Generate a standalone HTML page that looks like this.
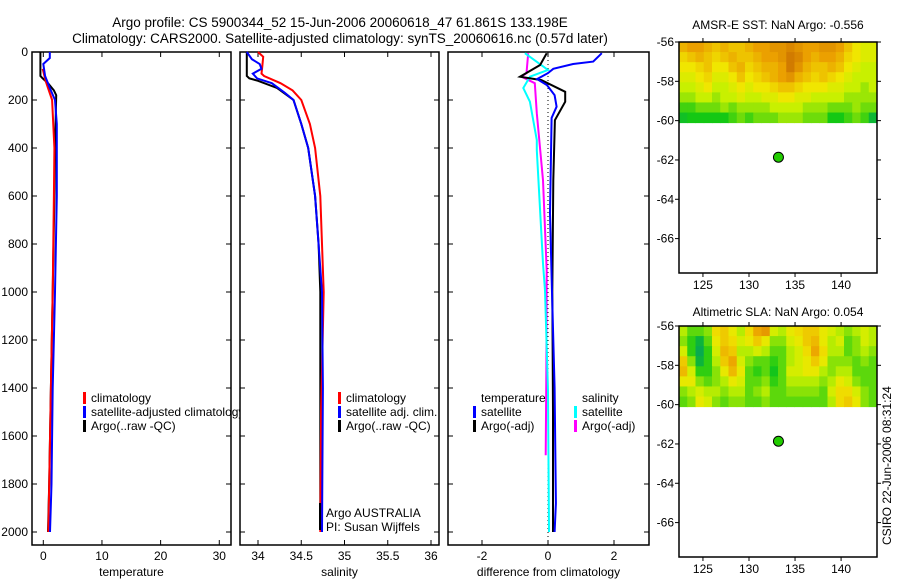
<!DOCTYPE html>
<html><head><meta charset="utf-8"><style>
html,body{margin:0;padding:0;background:#fff}
svg{display:block;font-family:"Liberation Sans",sans-serif}
</style></head><body>
<svg id="c" width="900" height="580" xmlns="http://www.w3.org/2000/svg">
<text x="340" y="27" text-anchor="middle" font-size="13.5">Argo profile: CS 5900344_52 15-Jun-2006 20060618_47 61.861S 133.198E</text>
<text x="340" y="43" text-anchor="middle" font-size="13.5">Climatology: CARS2000. Satellite-adjusted climatology: synTS_20060616.nc (0.57d later)</text>
<text x="778" y="29" text-anchor="middle" font-size="12">AMSR-E SST: NaN Argo: -0.556</text>
<text x="778" y="316" text-anchor="middle" font-size="12">Altimetric SLA: NaN Argo: 0.054</text>
<text transform="translate(891,545) rotate(-90)" font-size="12">CSIRO 22-Jun-2006 08:31:24</text>
</svg>
<script>
// ---- data ----
const depthTicks=[0,200,400,600,800,1000,1200,1400,1600,1800,2000];
const tempTicks=[0,10,20,30];
const salTicks=[34,34.5,35,35.5,36];
const salTickLabels=["34","34.5","35","35.5","36"];
const diffTicks=[-2,0,2];
const latTicks=[-56,-58,-60,-62,-64,-66];
const lonTicks=[125,130,135,140];

const tArgoDepth=[0,100,110,130,160,180,300,600,1000,1400,1800,2000];
const tArgoVal=[-0.5,-0.5,-0.1,0.8,1.8,2.2,2.1,1.9,1.6,1.3,1.0,0.8];
const tClimDepth=[70,120,200,400,600,1000,1400,1800,2000];
const tClimVal=[-0.1,0.4,1.5,1.9,1.8,1.6,1.3,1.0,0.85];
const tSatDepth=[0,25,50,100,150,200,300,600,1000,1400,1600,1800,2000];
const tSatVal=[1.1,1.1,0.0,0.3,1.1,2.0,2.3,2.3,2.0,1.6,1.5,1.4,1.15];

const sArgoDepth=[0,100,110,120,150,200,300,400,600,800,1000,1500,1990];
const sArgoVal=[33.87,33.87,33.9,34.0,34.22,34.41,34.5,34.58,34.66,34.7,34.72,34.72,34.72];
const sClimDepth=[0,20,60,90,100,130,160,200,300,400,600,800,1000,1500,2000];
const sClimVal=[34.0,34.06,34.05,34.04,34.07,34.26,34.4,34.5,34.6,34.66,34.72,34.74,34.76,34.73,34.72];
const sSatDepth=[0,30,50,70,90,110,130,170,200,300,400,600,1000,1400,2000];
const sSatVal=[33.87,33.93,34.02,34.04,33.94,33.99,34.16,34.31,34.41,34.5,34.58,34.66,34.74,34.75,34.74];

const dTSatDepth=[5,40,50,70,88,113,138,180,228,275,672,1000,1400,1880,2000];
const dTSatVal=[1.63,1.37,0.76,0.16,0.0,-0.33,-0.03,0.2,0.26,0.11,0.06,0.12,0.2,0.24,0.2];
const dTArgoDepth=[5,54,103,117,166,207,284,534,1000,1500,2000];
const dTArgoVal=[-0.04,-0.24,-0.85,-0.2,0.52,0.52,0.21,0.16,0.13,0.15,0.15];
const dSSatDepth=[5,75,103,150,207,367,409,881,994,1411,2000];
const dSSatVal=[-0.7,0.0,-0.55,-0.75,-0.55,-0.34,-0.34,-0.15,-0.09,0.0,0.03];
const dSArgoDepth=[5,88,103,130,255,534,910,1300,1680];
const dSArgoVal=[-0.6,-0.65,-0.8,-0.4,-0.34,-0.15,-0.04,-0.05,-0.07];

const sstGrid=[
[.75,.8,.8,.75,.7,.75,.7,.7,.75,.8,.8,.85,.85,.9,.85,.8,.8,.85,.85,.8,.7,.6,.55,.55],
[.65,.7,.75,.7,.65,.7,.75,.7,.7,.75,.8,.8,.85,.95,.9,.8,.75,.8,.8,.75,.65,.6,.55,.55],
[.6,.6,.65,.7,.6,.6,.7,.75,.65,.7,.75,.75,.8,.95,.85,.75,.7,.7,.75,.7,.6,.55,.5,.5],
[.55,.55,.6,.65,.55,.55,.6,.7,.6,.65,.7,.75,.8,.85,.75,.7,.65,.7,.65,.6,.55,.5,.5,.5],
[.5,.5,.55,.6,.5,.5,.55,.6,.55,.6,.6,.65,.7,.7,.65,.6,.6,.6,.55,.55,.5,.5,.45,.5],
[.45,.45,.5,.5,.45,.5,.5,.55,.5,.5,.55,.55,.6,.6,.55,.55,.5,.5,.5,.5,.45,.45,.45,.45],
[.35,.35,.4,.4,.4,.45,.4,.45,.45,.45,.45,.5,.5,.5,.5,.45,.45,.45,.4,.4,.4,.45,.4,.4],
[.25,.3,.3,.3,.3,.3,.35,.4,.35,.4,.4,.4,.45,.45,.45,.4,.4,.4,.3,.3,.35,.4,.35,.2]];
const slaGrid=[
[.48,.38,.38,.43,.63,.68,.58,.48,.63,.78,.83,.53,.48,.58,.63,.68,.68,.58,.53,.48,.43,.48,.53,.48],
[.43,.33,.18,.38,.58,.68,.63,.53,.58,.68,.58,.43,.43,.53,.58,.68,.73,.58,.48,.53,.38,.43,.53,.48],
[.53,.33,.12,.33,.53,.73,.68,.48,.48,.53,.48,.38,.38,.48,.53,.63,.78,.63,.48,.48,.38,.43,.48,.43],
[.68,.43,.18,.33,.48,.68,.78,.53,.43,.38,.38,.33,.38,.48,.53,.58,.68,.58,.43,.43,.43,.38,.43,.38],
[.73,.53,.33,.33,.43,.58,.73,.58,.38,.33,.38,.28,.38,.53,.53,.58,.58,.48,.43,.48,.48,.38,.38,.38],
[.58,.58,.43,.38,.43,.48,.58,.53,.38,.38,.43,.33,.38,.48,.48,.48,.48,.43,.48,.58,.53,.43,.38,.38],
[.43,.48,.53,.48,.48,.43,.48,.48,.38,.43,.48,.38,.38,.43,.43,.43,.43,.38,.53,.63,.63,.53,.43,.38],
[.38,.43,.58,.53,.43,.38,.43,.43,.38,.38,.43,.38,.38,.38,.38,.38,.38,.38,.48,.63,.68,.58,.43,.38]];
const floatLon=133.198, floatLat=-61.861;

// ---- drawing ----
const svg=document.getElementById('c');
const NS='http://www.w3.org/2000/svg';
function mk(tag,attrs,parent){const e=document.createElementNS(NS,tag);for(const k in attrs)e.setAttribute(k,attrs[k]);(parent||svg).appendChild(e);return e;}
const PT=52, PB=545, yD=d=>52+d*(532-52)/2000;

function profilePanel(name,x0,x1,xs,ticks,labels,title){
  const g=mk('g',{});
  
  
  mk('rect',{x:x0,y:PT,width:x1-x0,height:PB-PT,fill:'#fff',stroke:'#000','stroke-width':1.5},g);
  ticks.forEach((t,i)=>{const x=xs(t);
    mk('line',{x1:x,x2:x,y1:PB,y2:PB-5,stroke:'#000'},g);
    mk('line',{x1:x,x2:x,y1:PT,y2:PT+5,stroke:'#000'},g);
    const tx=mk('text',{x:x,y:560,'text-anchor':'middle','font-size':12},g);tx.textContent=labels[i];
    
    
  });
  depthTicks.forEach(d=>{mk('line',{x1:x1,x2:x1-5,y1:yD(d),y2:yD(d),stroke:'#000'},g);mk('line',{x1:x0,x2:x0+5,y1:yD(d),y2:yD(d),stroke:'#000'},g);});
  const tt=mk('text',{x:(x0+x1)/2,y:576,'text-anchor':'middle','font-size':12},g);tt.textContent=title;
  
  
  return g;
}
function series(g,name,depths,vals,xs,color){
  const p=depths.map((d,i)=>xs(vals[i]).toFixed(1)+','+yD(d).toFixed(1)).join(' ');
  const l=mk('polyline',{points:p,fill:'none',stroke:color,'stroke-width':2},g);
  
  
}
function legend(g,x,y,color,text,name){
  if(color)mk('rect',{x:x,y:y-10,width:3,height:12,fill:color},g);
  const t=mk('text',{x:x+8,y:y,'font-size':12},g);t.textContent=text;
  
  
}

// Panel 1
const xT=t=>43.3+t*5.866;
const g1=profilePanel('temperature-panel',32,231,xT,tempTicks,tempTicks.map(String),'temperature');
depthTicks.forEach(d=>{const t=mk('text',{x:28,y:yD(d)+4,'text-anchor':'end','font-size':12});t.textContent=d;
  
  });
series(g1,'temp-argo-line',tArgoDepth,tArgoVal,xT,'#000');
series(g1,'temp-climatology-line',tClimDepth,tClimVal,xT,'#f00');
series(g1,'temp-satellite-line',tSatDepth,tSatVal,xT,'#00f');
legend(g1,83,402,'#f00','climatology','legend-climatology');
legend(g1,83,416,'#00f','satellite-adjusted climatology','legend-satellite');
legend(g1,83,430,'#000','Argo(..raw -QC)','legend-argo');

// Panel 2
const xS=s=>258+(s-34)*86.5;
const g2=profilePanel('salinity-panel',240,439,xS,salTicks,salTickLabels,'salinity');
series(g2,'sal-argo-line',sArgoDepth,sArgoVal,xS,'#000');
series(g2,'sal-climatology-line',sClimDepth,sClimVal,xS,'#f00');
series(g2,'sal-satellite-line',sSatDepth,sSatVal,xS,'#00f');
legend(g2,338,402,'#f00','climatology','legend-climatology');
legend(g2,338,416,'#00f','satellite adj. clim.','legend-satellite');
legend(g2,338,430,'#000','Argo(..raw -QC)','legend-argo');
mk('rect',{x:319,y:503,width:2,height:27,fill:'#000'},g2);
legend(g2,318,517,null,'Argo AUSTRALIA','argo-australia-label');
legend(g2,318,531,null,'PI: Susan Wijffels','pi-label');

// Panel 3
const xDf=d=>548+d*33;
const g3=profilePanel('difference-panel',448,649,xDf,diffTicks,diffTicks.map(String),'difference from climatology');
mk('line',{x1:xDf(0),x2:xDf(0),y1:PT,y2:PB-8,stroke:'#000','stroke-dasharray':'1,3'},g3);
series(g3,'diff-sal-argo-line',dSArgoDepth,dSArgoVal,xDf,'#f0f');
series(g3,'diff-sal-satellite-line',dSSatDepth,dSSatVal,xDf,'#0ff');
series(g3,'diff-temp-argo-line',dTArgoDepth,dTArgoVal,xDf,'#000');
series(g3,'diff-temp-satellite-line',dTSatDepth,dTSatVal,xDf,'#00f');
legend(g3,473,402,null,'temperature','legend-temperature-heading');
legend(g3,473,416,'#00f','satellite','legend-temp-satellite');
legend(g3,473,430,'#000','Argo(-adj)','legend-temp-argo');
legend(g3,574,402,null,'salinity','legend-salinity-heading');
legend(g3,574,416,'#0ff','satellite','legend-sal-satellite');
legend(g3,574,430,'#f0f','Argo(-adj)','legend-sal-argo');

// Maps
function lerp(a,b,t){return a.map((v,i)=>Math.round(v+(b[i]-v)*t));}
const stops=[[0,[0,150,120]],[0.3,[20,200,20]],[0.5,[200,240,0]],[0.6,[240,230,0]],[0.8,[235,160,0]],[1,[200,110,0]]];
function cmap(v){for(let i=1;i<stops.length;i++){if(v<=stops[i][0]){const t=(v-stops[i-1][0])/(stops[i][0]-stops[i-1][0]);return 'rgb('+lerp(stops[i-1][1],stops[i][1],t).join(',')+')';}}return 'rgb(200,110,0)';}
function mapPanel(name,y0,y1,grid){
  const x0=679,x1=877,lon0=122.4,lon1=143.9,lat0=-56,latPerPx=(y1-y0)/11.75;
  const xL=l=>x0+(l-lon0)*(x1-x0)/(lon1-lon0);
  const yL=l=>y0+(lat0-l)*latPerPx;
  const g=mk('g',{});
  
  
  mk('rect',{x:x0,y:y0,width:x1-x0,height:y1-y0,fill:'#fff'},g);
  const rows=grid.length,cols=grid[0].length,dLat=4.1/rows,dLon=(lon1-lon0)/cols;
  grid.forEach((row,r)=>row.forEach((v,c)=>{
    const xa=xL(lon0+c*dLon),ya=yL(lat0-r*dLat);
    const cell=mk('rect',{x:xa,y:ya,width:xL(lon0+(c+1)*dLon)-xa+0.5,height:yL(lat0-(r+1)*dLat)-ya+0.5,fill:cmap(v)},g);
    
    
  }));
  mk('rect',{x:x0,y:y0,width:x1-x0,height:y1-y0,fill:'none',stroke:'#000','stroke-width':1.5},g);
  latTicks.forEach(l=>{const y=yL(l);mk('line',{x1:x0-4,x2:x0,y1:y,y2:y,stroke:'#000'},g);mk('line',{x1:x1,x2:x1+4,y1:y,y2:y,stroke:'#000'},g);
    const t=mk('text',{x:x0-5,y:y+4,'text-anchor':'end','font-size':12},g);t.textContent=l;
    
    });
  lonTicks.forEach(l=>{const x=xL(l);mk('line',{x1:x,x2:x,y1:y1,y2:y1+4,stroke:'#000'},g);mk('line',{x1:x,x2:x,y1:y0-4,y2:y0,stroke:'#000'},g);
    const t=mk('text',{x:x,y:y1+16,'text-anchor':'middle','font-size':12},g);t.textContent=l;
    
    });
  const dot=mk('circle',{cx:xL(floatLon),cy:yL(floatLat),r:5,fill:'#22cc00',stroke:'#000','stroke-width':1},g);
  
  
}
mapPanel('sst-map',42,273,sstGrid);
mapPanel('sla-map',326,557,slaGrid);
</script>
</body></html>
